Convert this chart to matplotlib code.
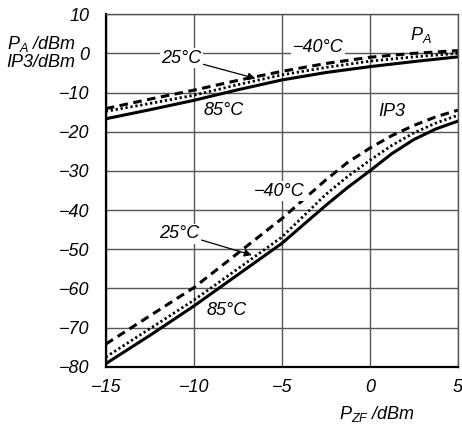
import matplotlib
matplotlib.use("Agg")
import matplotlib.pyplot as plt

# values
x_pa = [-15, -12.5, -10, -7.5, -5, -2.5, 0, 2.5, 5]
pa_m40 = [-14.1, -11.7, -9.4, -6.9, -4.6, -2.6, -1.0, 0.0, 0.7]
pa_25 = [-14.8, -12.8, -10.7, -8.0, -5.5, -3.6, -2.0, -0.9, 0.0]
pa_85 = [-16.7, -14.4, -12.0, -9.3, -6.8, -4.9, -3.4, -2.1, -0.9]

x_ip3 = [-15, -12.5, -10, -7.5, -5, -2.5, -1.25, 0, 1.25, 2.5, 3.75, 5]
ip3_m40 = [-74.2, -67.0, -59.8, -51.0, -42.2, -32.3, -27.8, -24.2, -21.0, -18.4, -16.2, -14.5]
ip3_25 = [-77.5, -70.3, -63.0, -55.0, -46.9, -36.0, -31.4, -27.3, -23.5, -20.3, -17.8, -15.8]
ip3_85 = [-79.2, -72.0, -64.5, -56.5, -48.5, -38.8, -34.2, -30.0, -25.6, -22.0, -19.3, -17.3]

xticks = [-15, -10, -5, 0, 5]
yticks = [10, 0, -10, -20, -30, -40, -50, -60, -70, -80]

plt.rcParams['font.family'] = ['Liberation Sans', 'DejaVu Sans']
plt.rcParams['font.style'] = 'italic'
plt.rcParams['mathtext.fontset'] = 'custom'
plt.rcParams['mathtext.it'] = 'Liberation Sans:italic'
plt.rcParams['mathtext.rm'] = 'Liberation Sans:italic'

fig = plt.figure(figsize=(4.62, 4.29), dpi=100)
ax = fig.add_axes([0.229, 0.145, 0.762, 0.822])

dash = dict(color='k', lw=2.2, linestyle=(0, (2.8, 1.8)))
dots = dict(color='k', lw=2.0, linestyle=(0, (0.8, 1.0)))
solid = dict(color='k', lw=2.2, linestyle='-')

ax.plot(x_pa, pa_m40, **dash)
ax.plot(x_pa, pa_25, **dots)
ax.plot(x_pa, pa_85, **solid)
ax.plot(x_ip3, ip3_m40, **dash)
ax.plot(x_ip3, ip3_25, **dots)
ax.plot(x_ip3, ip3_85, **solid)

ax.set_xlim(-15, 5)
ax.set_ylim(-80, 10)
ax.set_xticks(xticks)
ax.set_yticks(yticks)
ax.tick_params(length=0, labelsize=13)
ax.tick_params(axis='y', pad=12)
ax.tick_params(axis='x', pad=9)
ax.grid(True, color='#555555', lw=1)
ax.set_axisbelow(True)
for s in ['left', 'bottom']:
    ax.spines[s].set_linewidth(1.6)
for s in ['top', 'right']:
    ax.spines[s].set_linewidth(1.0)
    ax.spines[s].set_color('#555555')

box = dict(facecolor='white', edgecolor='none', pad=1)
fs = 13

fig.text(0.090, 0.898, r'$P_A$ /dBm', fontsize=fs, ha='center', va='center')
fig.text(0.088, 0.855, 'IP3/dBm', fontsize=fs, ha='center', va='center')
fig.text(0.816, 0.036, r'$P_{ZF}$ /dBm', fontsize=fs, ha='center', va='center')

arrow = dict(arrowstyle='-|>', color='k', lw=0.9, mutation_scale=11, shrinkA=0, shrinkB=0)
ax.annotate('25°C', xy=(-6.5, -6.4), xytext=(-10.7, -1.3), fontsize=fs,
            ha='center', va='center', bbox=box, arrowprops=arrow)
ax.text(-8.3, -14.7, '85°C', fontsize=fs, ha='center', va='center', bbox=box)
ax.text(-2.95, 1.6, '\u221240°C', fontsize=fs, ha='center', va='center', bbox=box)
ax.text(2.9, 4.6, r'$P_A$', fontsize=fs, ha='center', va='center')
ax.text(1.25, -14.8, 'IP3', fontsize=fs, ha='center', va='center')

ax.text(-5.15, -35.2, '\u221240°C', fontsize=fs, ha='center', va='center', bbox=box)
ax.annotate('25°C', xy=(-6.7, -51.5), xytext=(-10.8, -46.0), fontsize=fs,
            ha='center', va='center', bbox=box, arrowprops=arrow)
ax.text(-8.15, -65.6, '85°C', fontsize=fs, ha='center', va='center', bbox=box)

fig.savefig('out.png', dpi=100)
